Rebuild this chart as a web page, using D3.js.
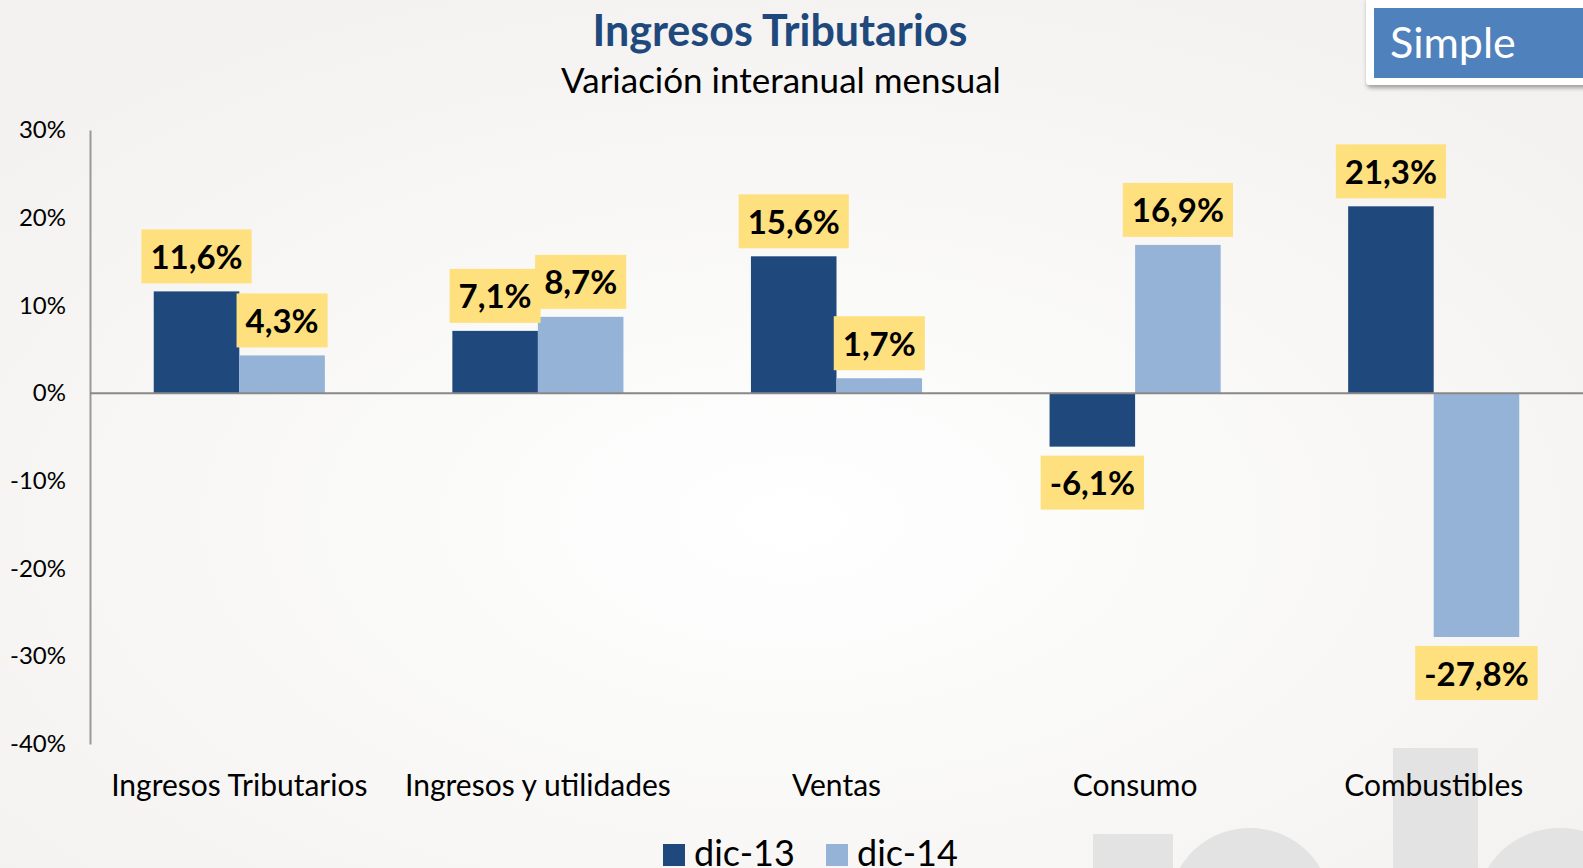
<!DOCTYPE html>
<html>
<head>
<meta charset="utf-8">
<script src="https://cdn.jsdelivr.net/npm/d3@7"></script>
<style>
  html, body { margin: 0; padding: 0; overflow: hidden; }
  body { width: 1583px; height: 868px; font-family: Lato, "Open Sans", sans-serif; }
</style>
</head>
<body>
<div id="chart"></div>
<script>
'use strict';

// chart data
var categories = ['Ingresos Tributarios', 'Ingresos y utilidades', 'Ventas', 'Consumo', 'Combustibles'];
var seriesNames = ['dic-13', 'dic-14'];
var dic13 = [11.6, 7.1, 15.6, -6.1, 21.3];
var dic14 = [4.3, 8.7, 1.7, 16.9, -27.8];
var yTicks = [30, 20, 10, 0, -10, -20, -30, -40];

var width = 1583, height = 868;
var colors = ['#1F497D', '#95B3D7'];

var svg = d3.select('#chart').append('svg')
  .attr('width', width)
  .attr('height', height);

// background with soft radial light
var defs = svg.append('defs');
var grad = defs.append('radialGradient').attr('id', 'bg')
  .attr('cx', '50%').attr('cy', '60%').attr('r', '65%');
grad.append('stop').attr('offset', '0%').attr('stop-color', '#FFFFFF');
grad.append('stop').attr('offset', '100%').attr('stop-color', '#F3F2F0');
var shadow = defs.append('filter').attr('id', 'shadow')
  .attr('x', '-10%').attr('y', '-10%').attr('width', '130%').attr('height', '140%');
shadow.append('feDropShadow').attr('dx', 1).attr('dy', 3).attr('stdDeviation', 2)
  .attr('flood-color', '#000').attr('flood-opacity', 0.35);

svg.append('rect').attr('width', width).attr('height', height).attr('fill', 'url(#bg)');

// faint logo shapes bottom right
var logo = svg.append('g').attr('fill', '#E3E3E3');
logo.append('rect').attr('x', 1093).attr('y', 834).attr('width', 80).attr('height', 40);
logo.append('ellipse').attr('cx', 1250).attr('cy', 905).attr('rx', 80).attr('ry', 77);
logo.append('rect').attr('x', 1393).attr('y', 748).attr('width', 85).attr('height', 130);
logo.append('ellipse').attr('cx', 1560).attr('cy', 905).attr('rx', 82).attr('ry', 77);

// titles
svg.append('text')
  .attr('x', 780).attr('y', 46)
  .attr('text-anchor', 'middle')
  .attr('font-size', 43).attr('font-weight', 'bold')
  .attr('fill', '#1F497D')
  .text('Ingresos Tributarios');

svg.append('text')
  .attr('x', 781).attr('y', 93)
  .attr('text-anchor', 'middle')
  .attr('font-size', 35)
  .attr('fill', '#000')
  .text('Variación interanual mensual');

// "Simple" tag
svg.append('rect')
  .attr('x', 1366).attr('y', -4).attr('width', 230).attr('height', 89)
  .attr('rx', 4)
  .attr('fill', '#fff').attr('filter', 'url(#shadow)');
svg.append('rect')
  .attr('x', 1374).attr('y', 8).attr('width', 215).attr('height', 70)
  .attr('fill', '#4F81BD');
svg.append('text')
  .attr('x', 1390).attr('y', 58)
  .attr('font-size', 43).attr('fill', '#fff')
  .text('Simple');

// scales
var x0 = d3.scaleBand().domain(categories).range([90, 1583]).paddingInner(0.427).paddingOuter(0.2135);
var x1 = d3.scaleBand().domain(seriesNames).range([0, x0.bandwidth()]);
var y = d3.scaleLinear().domain([-40, 30]).range([744, 130]);

// y axis
var yAxis = d3.axisLeft(y).tickValues(yTicks).tickSize(0).tickPadding(24)
  .tickFormat(function(d) { return d + '%'; });
var gy = svg.append('g').attr('transform', 'translate(90,0)').call(yAxis);
gy.select('.domain').attr('stroke', '#999').attr('stroke-width', 2);
gy.selectAll('text').attr('font-size', 24).attr('fill', '#000')
  .attr('font-family', 'Lato, "Open Sans", sans-serif');

// x axis labels
var xAxis = d3.axisBottom(x0).tickSize(0).tickPadding(0);
var gx = svg.append('g').attr('transform', 'translate(0,770)').call(xAxis);
gx.select('.domain').remove();
gx.selectAll('text').attr('font-size', 30).attr('fill', '#000')
  .attr('font-family', 'Lato, "Open Sans", sans-serif')
  .attr('dy', '0.85em');

// data rows
var rows = categories.map(function(c, i) {
  return { cat: c, vals: [
    { s: seriesNames[0], v: dic13[i], color: colors[0] },
    { s: seriesNames[1], v: dic14[i], color: colors[1] }
  ] };
});

var groups = svg.append('g').selectAll('g.grp')
  .data(rows).enter().append('g')
  .attr('class', 'grp')
  .attr('transform', function(d) { return 'translate(' + x0(d.cat) + ',0)'; });

groups.selectAll('rect.bar')
  .data(function(d) { return d.vals; })
  .enter().append('rect')
  .attr('class', 'bar')
  .attr('x', function(d) { return x1(d.s); })
  .attr('width', x1.bandwidth())
  .attr('y', function(d) { return y(Math.max(0, d.v)); })
  .attr('height', function(d) { return Math.abs(y(d.v) - y(0)); })
  .attr('fill', function(d) { return d.color; });

// zero line
svg.append('line')
  .attr('x1', 90).attr('x2', 1583)
  .attr('y1', y(0)).attr('y2', y(0))
  .attr('stroke', '#888').attr('stroke-width', 2);

// value labels
var boxH = 54;
var fmt = function(v) { return v.toFixed(1).replace('.', ',') + '%'; };
var labels = groups.selectAll('g.lab')
  .data(function(d) { return d.vals; })
  .enter().append('g').attr('class', 'lab');

labels.each(function(d) {
  var g = d3.select(this);
  var cx = x1(d.s) + x1.bandwidth() / 2;
  var top = d.v >= 0 ? y(d.v) - 8 - boxH : y(d.v) + 9;
  var t = g.append('text')
    .attr('x', cx).attr('y', top + boxH / 2)
    .attr('dy', '0.38em')
    .attr('text-anchor', 'middle')
    .attr('font-size', 33).attr('font-weight', 'bold')
    .attr('fill', '#000')
    .text(fmt(d.v));
  var w = t.node().getComputedTextLength() + 18;
  g.insert('rect', 'text')
    .attr('x', cx - w / 2).attr('y', top)
    .attr('width', w).attr('height', boxH)
    .attr('fill', '#FFE07E');
});

// legend
var legend = svg.append('g').selectAll('g.leg')
  .data(seriesNames).enter().append('g')
  .attr('class', 'leg')
  .attr('transform', function(d, i) { return 'translate(' + (663 + i * 163) + ',0)'; });
legend.append('rect')
  .attr('y', 844).attr('width', 22).attr('height', 22)
  .attr('fill', function(d, i) { return colors[i]; });
legend.append('text')
  .attr('x', 31).attr('y', 866)
  .attr('font-size', 36).attr('fill', '#000')
  .text(function(d) { return d; });
</script>
</body>
</html>
